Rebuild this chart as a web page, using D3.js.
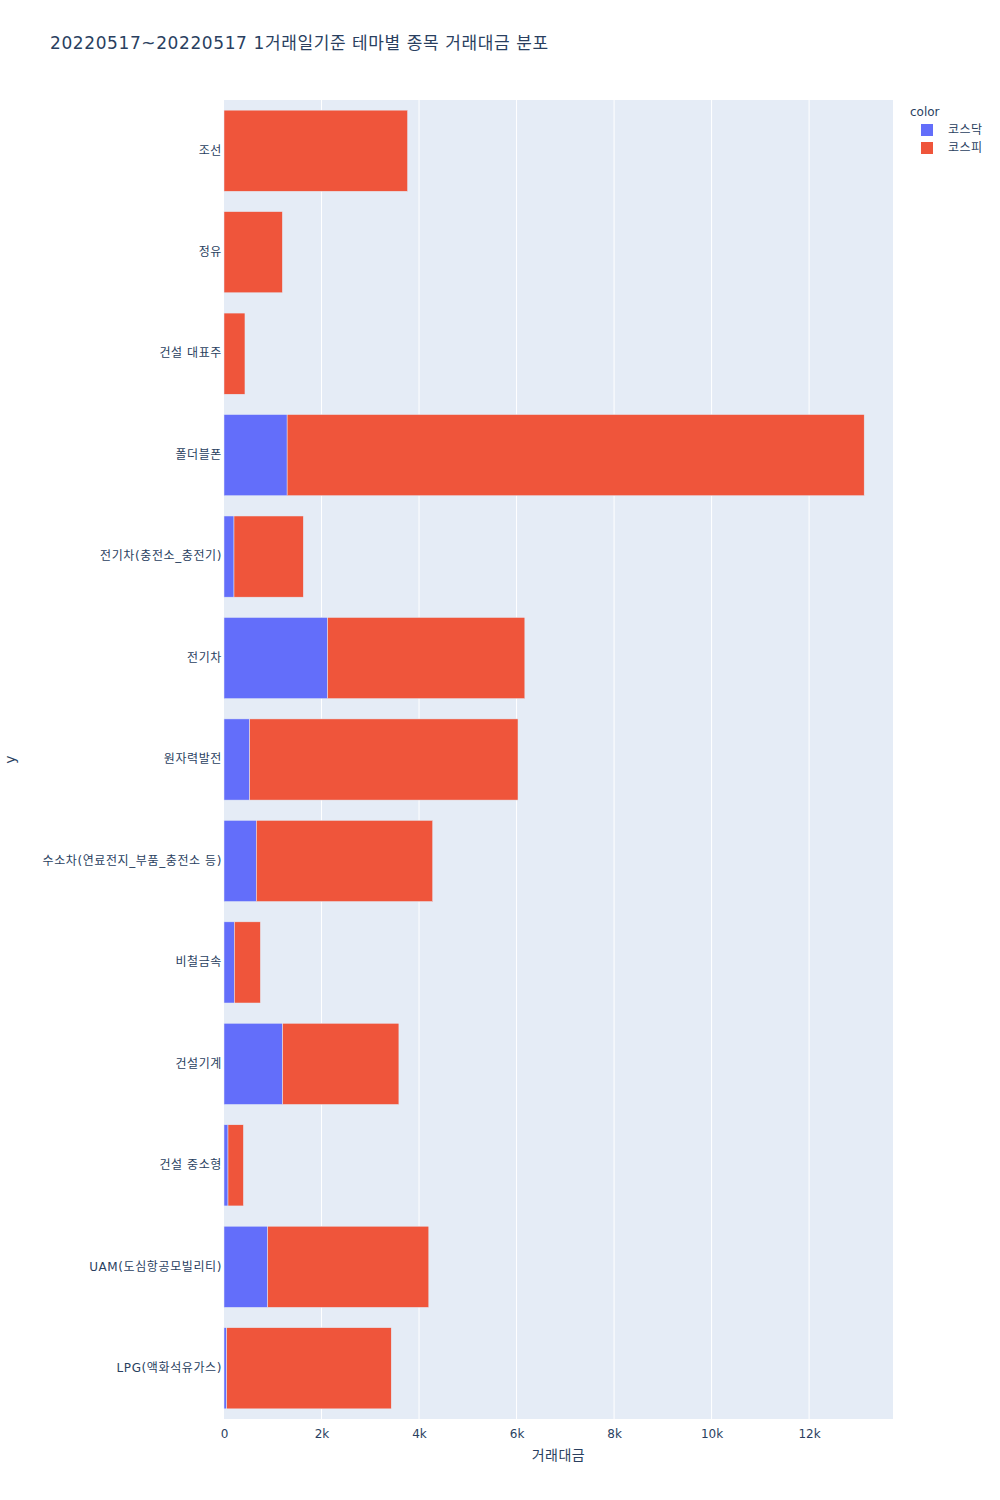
<!DOCTYPE html>
<html>
<head>
<meta charset="utf-8">
<script src="https://cdn.jsdelivr.net/npm/d3@7"></script>
<style>
  body { margin: 0; background: #fff; }
  svg text { font-family: "DejaVu Sans", "Noto Sans CJK KR", sans-serif; fill: #2a3f5f; }
</style>
</head>
<body>
<div id="container"></div>
<script>
// themes, top to bottom as shown
const themes = ['조선', '정유', '건설 대표주', '폴더블폰', '전기차(충전소_충전기)', '전기차', '원자력발전',
  '수소차(연료전지_부품_충전소 등)', '비철금속', '건설기계', '건설 중소형', 'UAM(도심항공모빌리티)', 'LPG(액화석유가스)']
const kosdaq = [0, 0, 0, 1295, 205, 2125, 527, 664, 213, 1203, 82, 896, 55]
const kospi  = [3765, 1197, 430, 11835, 1422, 4045, 5503, 3616, 533, 2384, 316, 3304, 3375]
const seriesNames = ['코스닥', '코스피']
const seriesColors = ['#636efa', '#EF553B']
const xTicks = [0, 2000, 4000, 6000, 8000, 10000, 12000]

const W = 1000, H = 1500
const margin = {top: 100, right: 107, bottom: 81, left: 224}
const width = W - margin.left - margin.right
const height = H - margin.top - margin.bottom

const svg = d3.select('#container').append('svg')
  .attr('width', W).attr('height', H)

svg.append('text')
  .attr('x', 50).attr('y', 49)
  .style('font-size', '17px')
  .style('letter-spacing', '0.6px')
  .text('20220517~20220517 1거래일기준 테마별 종목 거래대금 분포')

const g = svg.append('g').attr('transform', `translate(${margin.left}, ${margin.top})`)

g.append('rect').attr('width', width).attr('height', height).attr('fill', '#E5ECF6')

const rows = themes.map((t, i) => ({theme: t, '코스닥': kosdaq[i], '코스피': kospi[i]}))
const stacked = d3.stack().keys(seriesNames)(rows)
const maxTotal = d3.max(rows, d => d['코스닥'] + d['코스피'])

const x = d3.scaleLinear().domain([0, maxTotal * 1.045]).range([0, width])
const y = d3.scaleBand().domain(themes).range([0, height]).paddingInner(0.2).paddingOuter(0.1)

// grid
g.append('g').selectAll('line')
  .data(xTicks.filter(d => d > 0))
  .enter().append('line')
  .attr('x1', d => x(d)).attr('x2', d => x(d))
  .attr('y1', 0).attr('y2', height)
  .attr('stroke', '#fff').attr('stroke-width', 1)

// bars
stacked.forEach((layer, si) => {
  g.append('g').selectAll('rect')
    .data(layer.filter(d => d[1] - d[0] > 0))
    .enter().append('rect')
    .attr('x', d => x(d[0]))
    .attr('y', d => y(d.data.theme))
    .attr('width', d => x(d[1]) - x(d[0]))
    .attr('height', y.bandwidth())
    .attr('fill', seriesColors[si])
    .attr('stroke', '#E5ECF6')
    .attr('stroke-width', 0.5)
})

// x axis
const xAxis = g.append('g')
  .attr('transform', `translate(0, ${height})`)
  .call(d3.axisBottom(x).tickValues(xTicks).tickSize(0).tickPadding(10)
    .tickFormat(d => d === 0 ? '0' : (d / 1000) + 'k'))
xAxis.select('.domain').remove()
xAxis.selectAll('text').style('font-size', '12px').style('fill', '#2a3f5f')

// y axis
const yAxis = g.append('g')
  .call(d3.axisLeft(y).tickSize(0).tickPadding(2))
yAxis.select('.domain').remove()
yAxis.selectAll('text').style('font-size', '12px').style('fill', '#2a3f5f')
  .style('letter-spacing', '0.6px')

// axis titles
svg.append('text')
  .attr('x', margin.left + width / 2).attr('y', H - 40)
  .style('text-anchor', 'middle').style('font-size', '14px')
  .style('letter-spacing', '0.5px')
  .text('거래대금')

svg.append('text')
  .attr('transform', `translate(15, ${margin.top + height / 2}) rotate(-90)`)
  .style('text-anchor', 'middle').style('font-size', '14px')
  .text('y')

// legend
const legend = svg.append('g').attr('transform', 'translate(910, 0)')
legend.append('text').attr('x', 0).attr('y', 116).style('font-size', '12px').text('color')
seriesNames.forEach((name, i) => {
  const yy = 130 + i * 18
  legend.append('rect')
    .attr('x', 11).attr('y', yy - 6).attr('width', 12).attr('height', 12)
    .attr('fill', seriesColors[i])
  legend.append('text')
    .attr('x', 38).attr('y', yy + 4)
    .style('font-size', '12px')
    .style('letter-spacing', '0.5px')
    .text(name)
})
</script>
</body>
</html>
